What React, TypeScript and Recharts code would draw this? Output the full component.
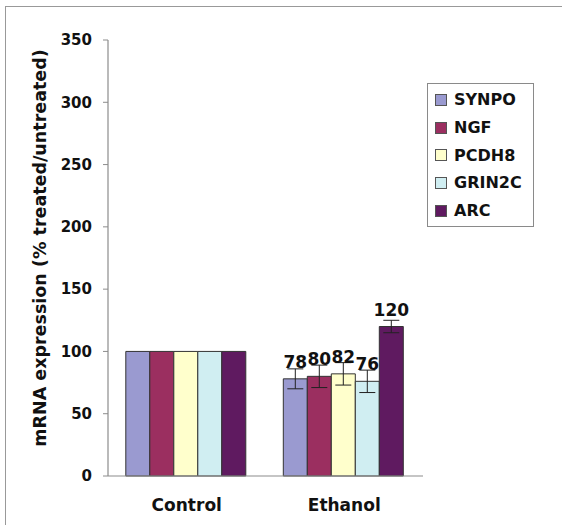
import { BarChart, Bar, XAxis, YAxis, ErrorBar, LabelList, Legend } from 'recharts';

const GROUPS = ['Control', 'Ethanol'];
const SHOW_LABEL = [false, true];

const GENES = ['SYNPO', 'NGF', 'PCDH8', 'GRIN2C', 'ARC'];
const COLORS = ['#9a9ad0', '#9b2f60', '#ffffcc', '#d0eef2', '#5f1a60'];

const SYNPO = [100, 78];
const NGF = [100, 80];
const PCDH8 = [100, 82];
const GRIN2C = [100, 76];
const ARC = [100, 120];

const SYNPO_ERR = [0, 8];
const NGF_ERR = [0, 9];
const PCDH8_ERR = [0, 9];
const GRIN2C_ERR = [0, 9];
const ARC_ERR = [0, 5];

const Y_TICKS = [0, 50, 100, 150, 200, 250, 300, 350];

const VALUES = [SYNPO, NGF, PCDH8, GRIN2C, ARC];
const ERRORS = [SYNPO_ERR, NGF_ERR, PCDH8_ERR, GRIN2C_ERR, ARC_ERR];

const data = GROUPS.map((name, i) => {
  const row: Record<string, string | number> = { name };
  GENES.forEach((g, j) => {
    row[g] = VALUES[j][i];
    row[g + '_err'] = ERRORS[j][i];
  });
  return row;
});

const FONT = '"DejaVu Sans", Arial, sans-serif';
const AXIS = '#8c8c8c';

function GeneLegend({ payload }: any) {
  // keep the series order of GENES, whatever order the payload comes in
  const items = [...(payload || [])].sort(
    (a: any, b: any) => GENES.indexOf(a.value) - GENES.indexOf(b.value)
  );
  return (
    <div
      style={{
        border: '1px solid #8a8a8a',
        background: '#fff',
        width: 105,
        padding: '2px 0',
        fontFamily: FONT,
        fontWeight: 'bold',
        fontSize: 16,
        color: '#111',
      }}
    >
      {items.map((p: any) => (
        <div key={p.value} style={{ display: 'flex', alignItems: 'center', height: 27.7 }}>
          <span
            style={{
              display: 'inline-block',
              width: 10,
              height: 10,
              marginLeft: 7,
              marginRight: 7,
              background: p.color,
              border: '1px solid #555',
            }}
          />
          {p.value}
        </div>
      ))}
    </div>
  );
}

function YLabel({ viewBox }: any) {
  const x = 40;
  const y = viewBox.y + viewBox.height / 2 - 10;
  return (
    <text
      x={x}
      y={y}
      transform={`rotate(-90, ${x}, ${y})`}
      textAnchor="middle"
      dominantBaseline="central"
      fontFamily={FONT}
      fontWeight="bold"
      fontSize={17.5}
      fill="#111"
    >
      mRNA expression (% treated/untreated)
    </text>
  );
}

export default function App() {
  return (
    <div style={{ position: 'absolute', left: 0, top: 0, width: 562, height: 525, background: '#fff' }}>
      <div
        style={{
          position: 'absolute',
          left: 5,
          top: 6,
          right: 0,
          bottom: 0,
          borderTop: '1.5px solid #999',
          borderLeft: '1.5px solid #999',
        }}
      />
      <BarChart
        width={562}
        height={525}
        data={data}
        margin={{ top: 40, right: 139, bottom: 0, left: 0 }}
        barCategoryGap="11.3%"
        barGap={0}
        style={{ position: 'absolute', left: 0, top: 0 }}
      >
        <XAxis
          xAxisId="bounds"
          type="number"
          domain={[0, 2]}
          ticks={[0, 1, 2]}
          tick={false}
          height={0}
          axisLine={false}
          tickLine={{ stroke: AXIS }}
          tickSize={6}
        />
        <XAxis
          xAxisId="cat"
          dataKey="name"
          height={49}
          axisLine={{ stroke: AXIS, strokeWidth: 1.2 }}
          tickLine={false}
          tickMargin={17}
          tick={{ fill: '#111', fontSize: 17, fontWeight: 'bold', fontFamily: FONT }}
        />
        <YAxis
          width={108}
          domain={[0, 350]}
          ticks={Y_TICKS}
          interval={0}
          axisLine={{ stroke: AXIS, strokeWidth: 1.2 }}
          tickLine={{ stroke: AXIS }}
          tickSize={5}
          tickMargin={11}
          tick={{ fill: '#111', fontSize: 15, fontWeight: 'bold', fontFamily: FONT }}
          label={<YLabel />}
        />
        <Legend
          layout="vertical"
          align="center"
          verticalAlign="middle"
          content={<GeneLegend />}
          wrapperStyle={{ left: 427, top: 83, width: 107 }}
        />
        {GENES.map((g, j) => (
          <Bar
            key={g}
            xAxisId="cat"
            dataKey={g}
            name={g}
            fill={COLORS[j]}
            stroke="#333"
            strokeWidth={1}
            isAnimationActive={false}
          >
            <ErrorBar dataKey={g + '_err'} width={8} stroke="#222" strokeWidth={1} />
            <LabelList
              position="top"
              offset={11}
              valueAccessor={(entry: any, i: number) => (SHOW_LABEL[i] ? entry.value : null)}
              style={{ fill: '#111', fontSize: 17, fontWeight: 'bold', fontFamily: FONT }}
            />
          </Bar>
        ))}
      </BarChart>
    </div>
  );
}
